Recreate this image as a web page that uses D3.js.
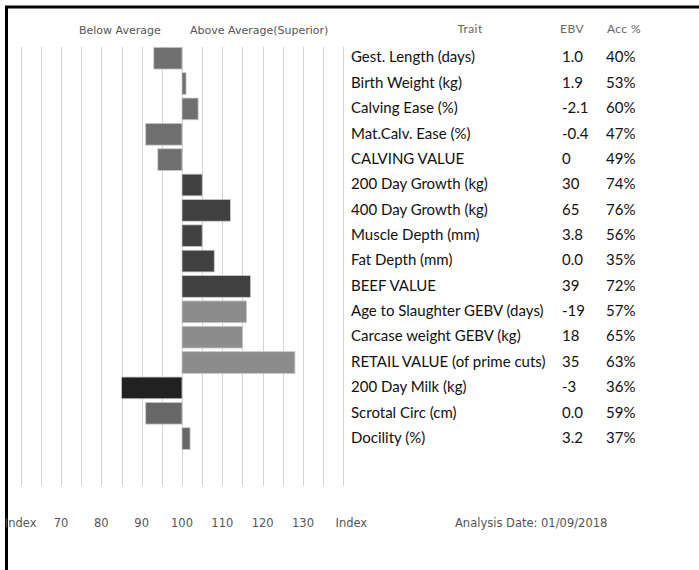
<!DOCTYPE html>
<html><head><meta charset="utf-8">
<script src="https://cdn.jsdelivr.net/npm/d3@7"></script>
<style>html,body{margin:0;padding:0;background:#fff;overflow:hidden} svg{display:block}</style>
</head><body><svg id="c" width="699" height="570"></svg>
<script>
// ---------- data ----------
const traits = ["Gest. Length (days)","Birth Weight (kg)","Calving Ease (%)","Mat.Calv. Ease (%)","CALVING VALUE",
  "200 Day Growth (kg)","400 Day Growth (kg)","Muscle Depth (mm)","Fat Depth (mm)","BEEF VALUE",
  "Age to Slaughter GEBV (days)","Carcase weight GEBV (kg)","RETAIL VALUE (of prime cuts)",
  "200 Day Milk (kg)","Scrotal Circ (cm)","Docility (%)"];
const indexValues = [93, 101, 104, 91, 94, 105, 112, 105, 108, 117, 116, 115, 128, 85, 91, 102];
const ebvLabels = ["1.0","1.9","-2.1","-0.4","0","30","65","3.8","0.0","39","-19","18","35","-3","0.0","3.2"];
const accLabels = ["40%","53%","60%","47%","49%","74%","76%","56%","35%","72%","57%","65%","63%","36%","59%","37%"];
const traitGroups = ["calving","calving","calving","calving","calving","beef","beef","beef","beef","beef",
  "retail","retail","retail","milk","other","other"];
const tickValues = [70, 80, 90, 100, 110, 120, 130];
const headerLabels = ["Below Average", "Above Average(Superior)"];
const tableHeaders = ["Trait", "EBV", "Acc %"];
const analysisDate = "Analysis Date: 01/09/2018";

// ---------- layout ----------
const svg = d3.select("#c");
const x = d3.scaleLinear().domain([60, 140]).range([20.67, 343.33]);
const y = d3.scaleBand().domain(traits).range([45.5, 451.3]).paddingInner(0.144).paddingOuter(0.072);
const color = d3.scaleOrdinal()
  .domain(["calving","beef","retail","milk","other"])
  .range(["#6f6f6f","#404040","#8c8c8c","#212121","#676767"]);
const labelFont = "'DejaVu Sans', Verdana, sans-serif";
const tableFont = "Lato, 'Noto Sans', sans-serif";

svg.append("rect").attr("width", 699).attr("height", 570).attr("fill", "#fff");

// outer frame (top and left edges only)
svg.append("path").attr("d", "M6.5,570 V7 H699")
  .attr("fill", "none").attr("stroke", "#000").attr("stroke-width", 3);

// grid lines
const gridVals = d3.range(60, 141, 5);
svg.append("g").selectAll("line").data(gridVals).join("line")
  .attr("x1", d => Math.round(x(d)) + 0.5).attr("x2", d => Math.round(x(d)) + 0.5)
  .attr("y1", 47).attr("y2", 486)
  .attr("stroke", "#d3d3d3").attr("stroke-width", 1);

// bars
svg.append("g").selectAll("rect").data(traits).join("rect")
  .attr("x", (d, i) => x(Math.min(100, indexValues[i])))
  .attr("width", (d, i) => Math.abs(x(indexValues[i]) - x(100)))
  .attr("y", d => y(d))
  .attr("height", y.bandwidth())
  .attr("fill", (d, i) => color(traitGroups[i]))
  .attr("stroke", "#c8c8c8").attr("stroke-width", 0.8);

// header labels
svg.append("text").attr("x", 79).attr("y", 34).text(headerLabels[0])
  .attr("font-family", labelFont).attr("font-size", 11).attr("fill", "#555");
svg.append("text").attr("x", 190).attr("y", 34).text(headerLabels[1])
  .attr("font-family", labelFont).attr("font-size", 11).attr("fill", "#555");

// table headers
const colX = [351, 562, 606];
const th = svg.append("g").attr("font-family", tableFont).attr("font-size", 12)
  .attr("fill", "#666").attr("letter-spacing", 0.4);
th.append("text").attr("x", 470).attr("y", 33).attr("text-anchor", "middle").text(tableHeaders[0]);
th.append("text").attr("x", 572).attr("y", 33).attr("text-anchor", "middle").text(tableHeaders[1]);
th.append("text").attr("x", 624).attr("y", 33).attr("text-anchor", "middle").text(tableHeaders[2]);

// table rows
const rows = svg.append("g").attr("font-family", tableFont).attr("font-size", 15).attr("fill", "#111");
rows.selectAll("text.t").data(traits).join("text").attr("class", "t")
  .attr("x", colX[0]).attr("y", d => y(d) + y.bandwidth() / 2 - 1).attr("dy", "0.35em").text(d => d);
rows.selectAll("text.e").data(traits).join("text").attr("class", "e")
  .attr("x", colX[1]).attr("y", d => y(d) + y.bandwidth() / 2 - 1).attr("dy", "0.35em").text((d, i) => ebvLabels[i]);
rows.selectAll("text.a").data(traits).join("text").attr("class", "a")
  .attr("x", colX[2]).attr("y", d => y(d) + y.bandwidth() / 2 - 1).attr("dy", "0.35em").text((d, i) => accLabels[i]);

// bottom axis labels
const axisG = svg.append("g").attr("font-family", labelFont).attr("font-size", 11.5).attr("fill", "#555");
axisG.selectAll("text.tick").data(tickValues).join("text").attr("class", "tick")
  .attr("x", d => x(d)).attr("y", 527).attr("text-anchor", "middle").text(d => d);
axisG.append("text").attr("x", x(60)).attr("y", 527).attr("text-anchor", "middle").text("Index");
axisG.append("text").attr("x", x(140) + 8).attr("y", 527).attr("text-anchor", "middle").text("Index");
axisG.append("text").attr("x", 455).attr("y", 527).text(analysisDate);
</script></body></html>
